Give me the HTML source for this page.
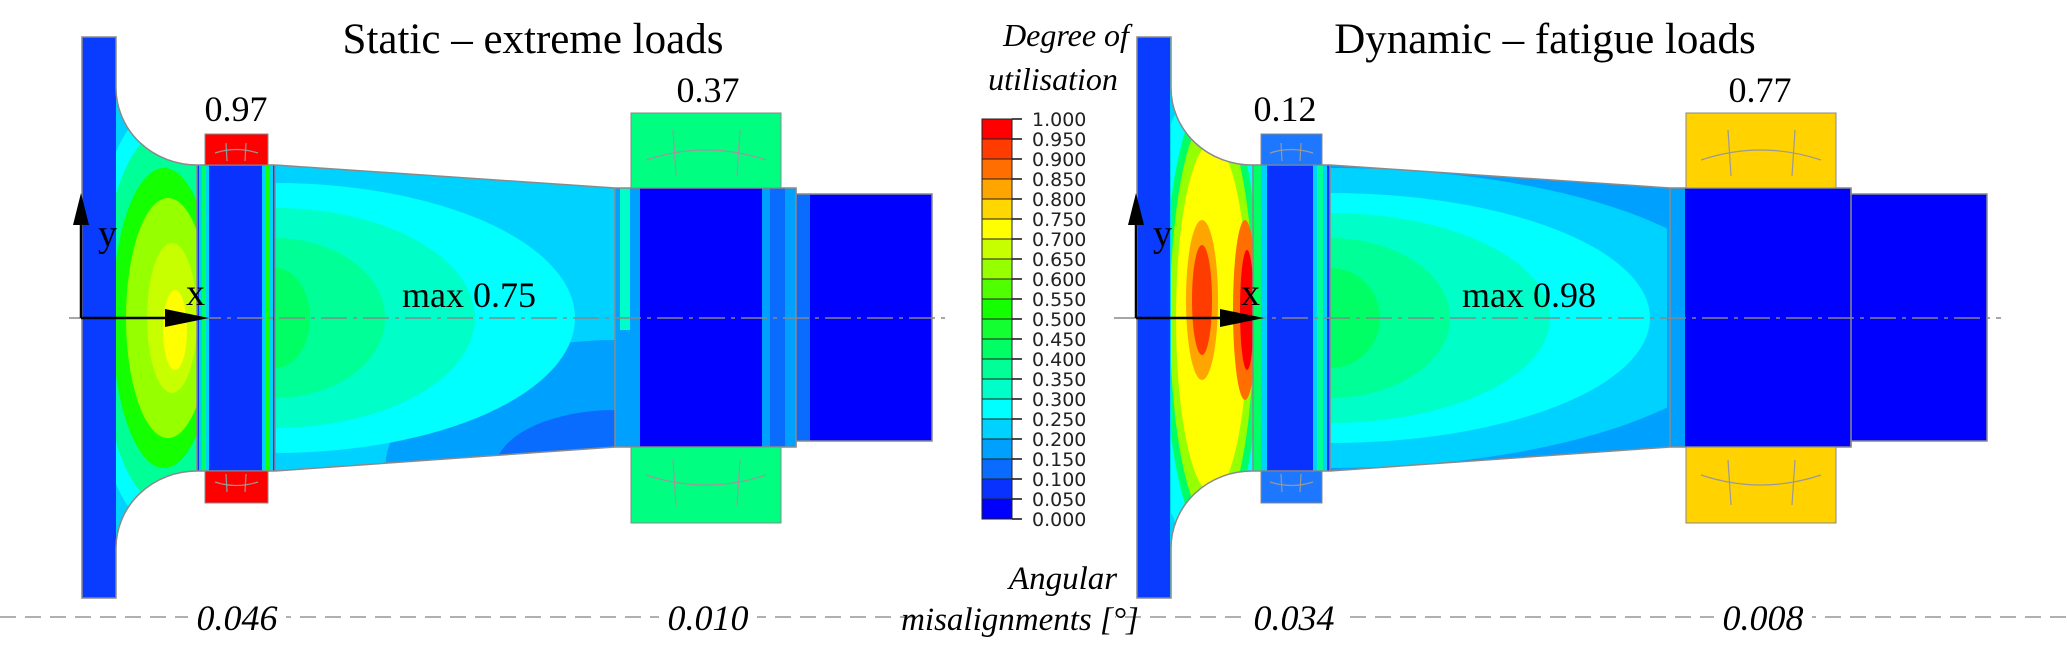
<!DOCTYPE html>
<html><head><meta charset="utf-8">
<style>
html,body{margin:0;padding:0;background:#fff;}
svg{display:block;}
.ser{font-family:"Liberation Serif",serif;fill:#000;}
</style></head>
<body>
<svg id="fig" width="2067" height="660" viewBox="0 0 2067 660" xmlns="http://www.w3.org/2000/svg">
<defs>
<clipPath id="shaftclip">
<path d="M82,37 H116 V88 A81 77 0 0 0 197,165 H275 L615,188 H796 V194 H932 V441 H796 V447 H615 L275,471 H197 A81 77 0 0 0 116,548 V598 H82 Z"/>
</clipPath>
<clipPath id="hubleft"><rect x="116" y="30" width="82" height="600"/></clipPath>
<clipPath id="taperclip"><rect x="275" y="30" width="340" height="600"/></clipPath>
</defs>

<line x1="0" y1="617" x2="2067" y2="617" stroke="#b0b0b0" stroke-width="2" stroke-dasharray="16 9"/>

<!-- LEFT PANEL -->
<g>
 <g clip-path="url(#shaftclip)">
  <rect x="60" y="30" width="900" height="600" fill="#00d2ff"/>
  <g clip-path="url(#taperclip)">
   <ellipse cx="615" cy="470" rx="230" ry="130" fill="#00a0ff"/>
   <ellipse cx="615" cy="470" rx="120" ry="60" fill="#0a6cff"/>
   <ellipse cx="275" cy="318" rx="300" ry="135" fill="#00ffff"/>
   <ellipse cx="275" cy="318" rx="200" ry="110" fill="#00ffc8"/>
   <ellipse cx="275" cy="318" rx="110" ry="80" fill="#00ff96"/>
   <ellipse cx="275" cy="318" rx="35" ry="50" fill="#00ff64"/>
  </g>
  <g clip-path="url(#hubleft)">
   <ellipse cx="160" cy="318" rx="72" ry="210" fill="#00ffff"/>
   <ellipse cx="162" cy="318" rx="62" ry="185" fill="#00ff96"/>
   <ellipse cx="164" cy="318" rx="52" ry="150" fill="#14ff00"/>
   <ellipse cx="168" cy="318" rx="42" ry="120" fill="#96ff00"/>
   <ellipse cx="172" cy="318" rx="25" ry="75" fill="#c8ff00"/>
   <ellipse cx="175" cy="330" rx="12" ry="40" fill="#ffff00"/>
  </g>
  <rect x="82" y="30" width="34" height="600" fill="#0a3cff"/>
  <rect x="197" y="160" width="78" height="320" fill="#0a32ff"/>
  <rect x="199" y="160" width="10" height="320" fill="#00d2ff"/>
  <rect x="202" y="160" width="4" height="320" fill="#00ff64"/>
  <rect x="262" y="160" width="11" height="320" fill="#00d2ff"/>
  <rect x="265" y="160" width="5" height="320" fill="#14ff00"/>
  <rect x="615" y="180" width="181" height="280" fill="#0000ff"/>
  <rect x="615" y="180" width="25" height="280" fill="#00a0ff"/>
  <rect x="620" y="180" width="10" height="150" fill="#00ffc8"/>
  <rect x="762" y="180" width="34" height="280" fill="#00a0ff"/>
  <rect x="770" y="180" width="15" height="280" fill="#0a6cff"/>
  <rect x="796" y="180" width="140" height="280" fill="#0000ff"/>
  <rect x="796" y="180" width="14" height="280" fill="#0a6cff"/>
 </g>
 <g fill="none" stroke="#8a8a8a" stroke-width="1.5">
  <path d="M82,37 H116 V88 A81 77 0 0 0 197,165 H275 L615,188 H796 V194 H932 V441 H796 V447 H615 L275,471 H197 A81 77 0 0 0 116,548 V598 H82 Z"/>
  <line x1="197" y1="165" x2="197" y2="471"/><line x1="275" y1="165" x2="275" y2="471"/>
  <line x1="615" y1="188" x2="615" y2="447"/><line x1="796" y1="188" x2="796" y2="447"/>
 </g>
 <rect x="205" y="134" width="63" height="31" fill="#ff0000" stroke="#888"/>
 <rect x="205" y="471" width="63" height="32" fill="#ff0000" stroke="#888"/>
 <rect x="631" y="113" width="150" height="75" fill="#00ff80" stroke="#888"/>
 <rect x="631" y="447" width="150" height="76" fill="#00ff80" stroke="#888"/>
 <g fill="none" stroke="#999" stroke-width="1.2">
  <path d="M215,153 Q236,146 258,153"/><line x1="226" y1="143" x2="227" y2="161"/><line x1="246" y1="143" x2="245" y2="161"/>
  <path d="M215,482 Q236,489 258,482"/><line x1="226" y1="474" x2="227" y2="492"/><line x1="246" y1="474" x2="245" y2="492"/>
  <path d="M646,160 Q706,140 766,160"/><line x1="673" y1="130" x2="676" y2="176"/><line x1="740" y1="130" x2="737" y2="176"/>
  <path d="M646,475 Q706,495 766,475"/><line x1="673" y1="460" x2="676" y2="505"/><line x1="740" y1="460" x2="737" y2="505"/>
 </g>
 <line x1="69" y1="318" x2="946" y2="318" stroke="#888" stroke-width="1.5" stroke-dasharray="26 6 4 6"/>
 <g>
  <line x1="81" y1="318" x2="81" y2="215" stroke="#000" stroke-width="2.5"/>
  <polygon points="81,193 73,225 89,225" fill="#000"/>
  <line x1="81" y1="318" x2="185" y2="318" stroke="#000" stroke-width="2.5"/>
  <polygon points="209,318 165,309 165,327" fill="#000"/>
 </g>
 <text class="ser" x="98" y="246" font-size="38">y</text>
 <text class="ser" x="186" y="305" font-size="38">x</text>
 <text class="ser" x="533" y="53" font-size="43" text-anchor="middle">Static – extreme loads</text>
 <text class="ser" x="236" y="121" font-size="36" text-anchor="middle">0.97</text>
 <text class="ser" x="708" y="102" font-size="36" text-anchor="middle">0.37</text>
 <text class="ser" x="469" y="307" font-size="36" text-anchor="middle">max 0.75</text>
 <rect x="188" y="600" width="98" height="36" fill="#fff"/>
 <text class="ser" x="237" y="630" font-size="36" font-style="italic" text-anchor="middle">0.046</text>
 <rect x="659" y="600" width="98" height="36" fill="#fff"/>
 <text class="ser" x="708" y="630" font-size="36" font-style="italic" text-anchor="middle">0.010</text>
</g>

<!-- RIGHT PANEL -->
<g transform="translate(1055,0)">
 <g clip-path="url(#shaftclip)">
  <rect x="60" y="30" width="900" height="600" fill="#00d2ff"/>
  <g clip-path="url(#taperclip)">
   <rect x="275" y="160" width="340" height="320" fill="#00a0ff"/>
   <ellipse cx="275" cy="318" rx="420" ry="150" fill="#00d2ff"/>
   <ellipse cx="275" cy="318" rx="320" ry="125" fill="#00ffff"/>
   <ellipse cx="275" cy="318" rx="220" ry="105" fill="#00ffc8"/>
   <ellipse cx="275" cy="318" rx="120" ry="80" fill="#00ff96"/>
   <ellipse cx="275" cy="318" rx="50" ry="50" fill="#00ff64"/>
  </g>
  <g clip-path="url(#hubleft)">
   <ellipse cx="157" cy="318" rx="70" ry="240" fill="#00ffff"/>
   <ellipse cx="157" cy="318" rx="48" ry="225" fill="#00ff64"/>
   <ellipse cx="157" cy="318" rx="42" ry="205" fill="#96ff00"/>
   <ellipse cx="157" cy="318" rx="36" ry="175" fill="#ffff00"/>
   <ellipse cx="147" cy="300" rx="16" ry="80" fill="#ffa500"/>
   <ellipse cx="147" cy="300" rx="10" ry="55" fill="#ff3c00"/>
   <ellipse cx="190" cy="310" rx="12" ry="90" fill="#ff6e00"/>
   <ellipse cx="192" cy="310" rx="7" ry="60" fill="#ff0000"/>
  </g>
  <rect x="82" y="30" width="33" height="600" fill="#0a3cff"/>
  <rect x="198" y="160" width="77" height="320" fill="#0a32ff"/>
  <rect x="198" y="160" width="14" height="320" fill="#00d2ff"/>
  <rect x="198" y="160" width="8" height="320" fill="#00ff64"/>
  <rect x="258" y="160" width="14" height="320" fill="#00d2ff"/>
  <rect x="262" y="160" width="6" height="320" fill="#00ff96"/>
  <rect x="615" y="180" width="330" height="280" fill="#0000ff"/>
  <rect x="612" y="180" width="18" height="280" fill="#00a0ff"/>
 </g>
 <g fill="none" stroke="#8a8a8a" stroke-width="1.5">
  <path d="M82,37 H116 V88 A81 77 0 0 0 197,165 H275 L615,188 H796 V194 H932 V441 H796 V447 H615 L275,471 H197 A81 77 0 0 0 116,548 V598 H82 Z"/>
  <line x1="198" y1="165" x2="198" y2="471"/><line x1="275" y1="165" x2="275" y2="471"/>
  <line x1="615" y1="188" x2="615" y2="447"/><line x1="796" y1="188" x2="796" y2="447"/>
 </g>
 <rect x="206" y="134" width="61" height="31" fill="#1e78ff" stroke="#888"/>
 <rect x="206" y="471" width="61" height="32" fill="#1e78ff" stroke="#888"/>
 <rect x="631" y="113" width="150" height="75" fill="#ffd200" stroke="#888"/>
 <rect x="631" y="447" width="150" height="76" fill="#ffd200" stroke="#888"/>
 <g fill="none" stroke="#999" stroke-width="1.2">
  <path d="M215,153 Q236,146 258,153"/><line x1="226" y1="143" x2="227" y2="161"/><line x1="246" y1="143" x2="245" y2="161"/>
  <path d="M215,482 Q236,489 258,482"/><line x1="226" y1="474" x2="227" y2="492"/><line x1="246" y1="474" x2="245" y2="492"/>
  <path d="M646,160 Q706,140 766,160"/><line x1="673" y1="130" x2="676" y2="176"/><line x1="740" y1="130" x2="737" y2="176"/>
  <path d="M646,475 Q706,495 766,475"/><line x1="673" y1="460" x2="676" y2="505"/><line x1="740" y1="460" x2="737" y2="505"/>
 </g>
 <line x1="59" y1="318" x2="946" y2="318" stroke="#888" stroke-width="1.5" stroke-dasharray="26 6 4 6"/>
 <g>
  <line x1="81" y1="318" x2="81" y2="215" stroke="#000" stroke-width="2.5"/>
  <polygon points="81,193 73,225 89,225" fill="#000"/>
  <line x1="81" y1="318" x2="185" y2="318" stroke="#000" stroke-width="2.5"/>
  <polygon points="209,318 165,309 165,327" fill="#000"/>
 </g>
 <text class="ser" x="98" y="246" font-size="38">y</text>
 <text class="ser" x="186" y="305" font-size="38">x</text>
 <text class="ser" x="230" y="121" font-size="36" text-anchor="middle">0.12</text>
 <text class="ser" x="705" y="102" font-size="36" text-anchor="middle">0.77</text>
 <text class="ser" x="474" y="307" font-size="36" text-anchor="middle">max 0.98</text>
 <rect x="190" y="600" width="98" height="36" fill="#fff"/>
 <text class="ser" x="239" y="630" font-size="36" font-style="italic" text-anchor="middle">0.034</text>
 <rect x="659" y="600" width="98" height="36" fill="#fff"/>
 <text class="ser" x="708" y="630" font-size="36" font-style="italic" text-anchor="middle">0.008</text>
</g>
<text class="ser" x="1545" y="53" font-size="43" text-anchor="middle">Dynamic – fatigue loads</text>

<text class="ser" x="1066" y="46" font-size="32" font-style="italic" text-anchor="middle">Degree of</text>
<text class="ser" x="1053" y="90" font-size="32" font-style="italic" text-anchor="middle">utilisation</text>
<rect x="925" y="598" width="190" height="40" fill="#fff"/>
<text class="ser" x="1063" y="589" font-size="33" font-style="italic" text-anchor="middle">Angular</text>
<text class="ser" x="1020" y="630" font-size="33" font-style="italic" text-anchor="middle">misalignments [°]</text>
<g id="legend"></g>
</svg>
<script>
const binColors = ["#0000ff","#0a32ff","#0a6cff","#00a0ff","#00d2ff","#00ffff","#00ffc8","#00ff96","#00ff64","#14ff32","#14ff00","#50ff00","#96ff00","#c8ff00","#ffff00","#ffd700","#ffa500","#ff6e00","#ff3c00","#ff0000"];
const tickLabels = ["0.000","0.050","0.100","0.150","0.200","0.250","0.300","0.350","0.400","0.450","0.500","0.550","0.600","0.650","0.700","0.750","0.800","0.850","0.900","0.950","1.000"];
const tickValues = [0,0.05,0.1,0.15,0.2,0.25,0.3,0.35,0.4,0.45,0.5,0.55,0.6,0.65,0.7,0.75,0.8,0.85,0.9,0.95,1.0];
(function(){
  const NS="http://www.w3.org/2000/svg";
  const g=document.getElementById('legend');
  const y0=519, y1=119;
  const yScale=v=>y0-(v-0)/(1-0)*(y0-y1);
  const bx=982, bw=30;
  for(let i=0;i<binColors.length;i++){
    const r=document.createElementNS(NS,'rect');
    const top=yScale(tickValues[i+1]), bot=yScale(tickValues[i]);
    r.setAttribute('x',bx);r.setAttribute('y',top);r.setAttribute('width',bw);r.setAttribute('height',bot-top);
    r.setAttribute('fill',binColors[i]);r.setAttribute('stroke','#222');r.setAttribute('stroke-width','1');
    
    
    g.appendChild(r);
  }
  for(let i=0;i<tickLabels.length;i++){
    const y=yScale(tickValues[i]);
    const l=document.createElementNS(NS,'line');
    l.setAttribute('x1',bx+bw);l.setAttribute('x2',bx+bw+10);l.setAttribute('y1',y);l.setAttribute('y2',y);
    l.setAttribute('stroke','#111');l.setAttribute('stroke-width','1.5');
    
    
    g.appendChild(l);
    const t=document.createElementNS(NS,'text');
    t.setAttribute('x',1032);t.setAttribute('y',y+7);
    t.setAttribute('font-family','"DejaVu Sans","Liberation Sans",sans-serif');
    t.setAttribute('font-size','19');t.setAttribute('fill','#222');
    t.textContent=tickLabels[i];
    
    
    g.appendChild(t);
  }
})();
</script>
</body></html>
